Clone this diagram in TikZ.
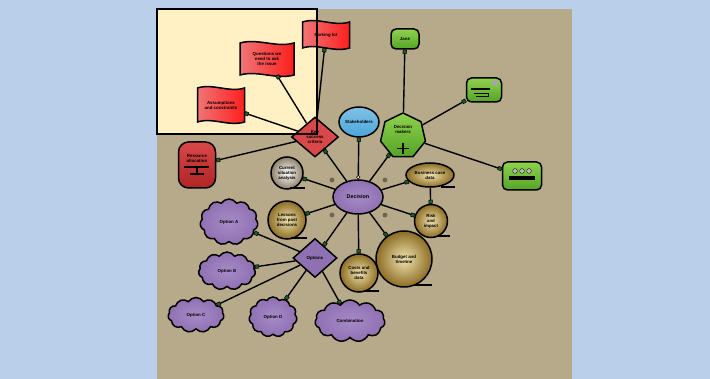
\documentclass[tikz,border=0pt]{standalone}
\usepackage{fontspec}
\setmainfont{Liberation Sans}
\usetikzlibrary{shapes.geometric,shapes.symbols,shapes.misc,arrows.meta,calc}

\definecolor{skyback}{HTML}{BAD0EA}
\definecolor{tanpanel}{HTML}{B6AA8A}
\definecolor{notepad}{HTML}{FFF1C4}
\definecolor{tipgreen}{HTML}{1E5E2A}
\definecolor{redlight}{HTML}{F07575}
\definecolor{redbright}{HTML}{FF1E1E}
\definecolor{reddeep}{HTML}{D94848}
\definecolor{reddark}{HTML}{B02424}
\definecolor{skyblue}{HTML}{4BA6DB}
\definecolor{leaflight}{HTML}{8FD24E}
\definecolor{leafdark}{HTML}{55A426}
\definecolor{plum}{HTML}{8F70B2}
\definecolor{plumlight}{HTML}{A68BC6}
\definecolor{goldlight}{HTML}{EFE2B0}
\definecolor{golddark}{HTML}{8C6C22}
\definecolor{paledark}{HTML}{8E8068}
\definecolor{dotgray}{HTML}{6E6650}

\tikzset{
  lbl/.style={font=\fontsize{4.4}{5}\selectfont\bfseries, align=center, text=black},
  outline/.style={draw=black, line width=1.5pt},
  flagbody/.style={outline, left color=redlight, right color=redbright},
  flagbox/.style={lbl, rectangle, inner sep=0pt},
  reddiamond/.style={outline, lbl, diamond, fill=reddeep, inner sep=0pt},
  barrel/.style={outline, lbl, rectangle, rounded corners=10pt, top color=reddeep, bottom color=reddark},
  bluebubble/.style={outline, lbl, ellipse, top color=skyblue!70!white, bottom color=skyblue, inner sep=0pt},
  greenbox/.style={outline, lbl, rectangle, rounded corners=5pt, top color=leaflight, bottom color=leafdark, inner sep=0pt},
  heptagon/.style={outline, lbl, regular polygon, regular polygon sides=7, top color=leaflight, bottom color=leafdark, inner sep=0pt},
  hub/.style={outline, lbl, ellipse, inner color=plumlight, outer color=plum, inner sep=0pt, font=\fontsize{5.4}{6}\selectfont\bfseries},
  goldball/.style={outline, lbl, circle, inner color=goldlight, outer color=golddark, inner sep=0pt},
  goldoval/.style={outline, lbl, ellipse, inner color=goldlight, outer color=golddark, inner sep=0pt},
  paleball/.style={outline, lbl, circle, inner color=white, outer color=paledark, inner sep=0pt},
  plumdiamond/.style={outline, lbl, diamond, fill=plum, inner sep=0pt},
  puff/.style={outline, lbl, cloud, cloud puffs=11, cloud puff arc=115, aspect=1.5, inner color=plumlight, outer color=plum, inner sep=0pt},
  conn/.style={line width=1.4pt, -{Square[length=4pt,width=4pt,fill=tipgreen,line width=0.5pt]}},
  conno/.style={line width=1.4pt, {Circle[open,length=4pt,width=4pt,fill=white,line width=0.6pt]}-{Square[length=4pt,width=4pt,fill=tipgreen,line width=0.5pt]}},
  shelf/.style={line width=1.6pt, black},
  hubdot/.style={fill=dotgray},
}

% wavy flag body plus a named text box of the same size
\newcommand\flagnode[6]{%
  \draw[flagbody, shift={(#1,#2)}]
    ({-#3/2},{-#4/2}) .. controls ({-#3/6},{-#4/2-5}) and ({#3/6},{-#4/2+5}) .. ({#3/2},{-#4/2})
    -- ({#3/2},{#4/2}) .. controls ({#3/6},{#4/2+5}) and ({-#3/6},{#4/2-5}) .. ({-#3/2},{#4/2}) -- cycle;
  \node[flagbox, minimum width=#3, minimum height=#4] (#5) at (#1,#2) {#6};
}

\begin{document}
\begin{tikzpicture}[x=1pt,y=-1pt]
  \useasboundingbox (0,0) rectangle (710,379);
  \fill[skyback] (0,0) rectangle (710,379);
  \fill[tanpanel] (157,9) rectangle (572,379);
  \fill[notepad] (157,9) rectangle (317,134);

  % red branch
  \flagnode{326}{35}{47}{26}{park}{Parking lot}
  \flagnode{267}{59}{54}{32}{ques}{Questions we\\need to ask\\the issue}
  \flagnode{221}{105}{47}{34}{assm}{Assumptions\\and constraints}
  \node[reddiamond, minimum width=47, minimum height=40] (crit) at (315,137) {Key\\success\\criteria};
  \node[barrel, minimum width=37, minimum height=46] (res) at (197,165) {};
  \node[lbl, anchor=south] (restext) at (197,166) {Resource\\allocation};
  \draw[shelf] (184,167) -- (209,167);
  \draw[line width=1.3pt] (197,167) -- (197,174);
  \draw[shelf] (190,174) -- (204,174);

  % blue and green branches
  \node[bluebubble, minimum width=40, minimum height=30] (stake) at (359,122) {Stakeholders};
  \node[heptagon, minimum size=46] (dm) at (403,136) {Decision\\makers\\[9pt]\,};
  \draw[line width=1.4pt] (403,143) -- (403,154) (397,148.5) -- (409,148.5);
  \node[greenbox, minimum width=28, minimum height=20] (jane) at (405,39) {Jane};
  \node[greenbox, minimum width=35, minimum height=24] (steer) at (484,90) {};
  \draw[shelf] (471,89) -- (490,89);
  \draw[line width=0.6pt] (474,93) -- (488,93) -- (488,96) -- (476,96);
  \fill[gray!70] (495,83) circle (3.2);
  \node[greenbox, minimum width=39, minimum height=28] (team) at (522,176) {};
  \fill[black] (509,176) rectangle (535,180);
  \foreach \dx in {-7,0,7} \fill[gray!55, draw=black, line width=0.3pt] (522+\dx,171) circle (2.4);

  % centre
  \node[hub, minimum width=50, minimum height=34] (ctr) at (358,197) {Decision};
  \foreach \p in {(332,180),(385,180),(332,215),(385,215)} \fill[hubdot] \p circle (2.4);

  % gold satellites
  \node[paleball, minimum size=32] (sit) at (287,173) {Current\\situation\\analysis};
  \node[goldball, minimum size=38] (hist) at (287,220) {Lessons\\from past\\decisions};
  \node[goldoval, minimum width=48, minimum height=24] (bcase) at (430,175) {Business case\\data};
  \node[goldball, minimum size=33] (risk) at (431,221) {Risk\\and\\impact};
  \node[goldball, minimum size=56] (bud) at (404,259) {Budget and\\timeline};
  \node[goldball, minimum size=38] (cost) at (359,273) {Costs and\\benefits\\data};
  \draw[shelf] (290,188) -- (305,188);
  \draw[shelf] (291,238) -- (307,238);
  \draw[shelf] (441,187) -- (455,187);
  \draw[shelf] (437,236) -- (450,236);
  \draw[shelf] (414,285) -- (432,285);
  \draw[shelf] (364,291) -- (379,291);

  % purple branch
  \node[plumdiamond, minimum width=44, minimum height=39] (opts) at (315,258) {Options};
  \node[puff, minimum width=58, minimum height=46] (oa) at (229,222) {Option A};
  \node[puff, minimum width=57, minimum height=38] (ob) at (227,271) {Option B};
  \node[puff, minimum width=56, minimum height=35] (oc) at (196,315) {Option C};
  \node[puff, minimum width=48, minimum height=40] (od) at (273,317) {Option D};
  \node[puff, minimum width=70, minimum height=42] (oe) at (350,321) {Combination};

  % connectors
  \draw[conno] (ctr) -- (stake);
  \draw[conn] (ctr) -- (dm);
  \draw[conn] (ctr) -- (crit);
  \draw[conn] (ctr) -- (sit);
  \draw[conn] (ctr) -- (hist);
  \draw[conn] (ctr) -- (opts);
  \draw[conn] (ctr) -- (cost);
  \draw[conn] (ctr) -- (bud);
  \draw[conn] (ctr) -- (risk);
  \draw[conn] (ctr) -- (bcase);
  \draw[conn] (bcase) -- (risk);
  \draw[conn] (crit) -- (park);
  \draw[conn] (crit) -- (ques);
  \draw[conn] (crit) -- (assm);
  \draw[conn] (crit) -- (res);
  \draw[conn] (dm) -- (jane);
  \draw[conn] (dm) -- (steer);
  \draw[conn] (dm) -- (team);
  \draw[conn] (opts) -- (oa);
  \draw[conn] (opts) -- (ob);
  \draw[conn] (opts) -- (oc);
  \draw[conn] (opts) -- (od);
  \draw[conn] (opts) -- (oe);

  % note frame drawn last so its border lies over the branch
  \draw[line width=1.5pt] (157,9) rectangle (317,134);
\end{tikzpicture}
\end{document}
